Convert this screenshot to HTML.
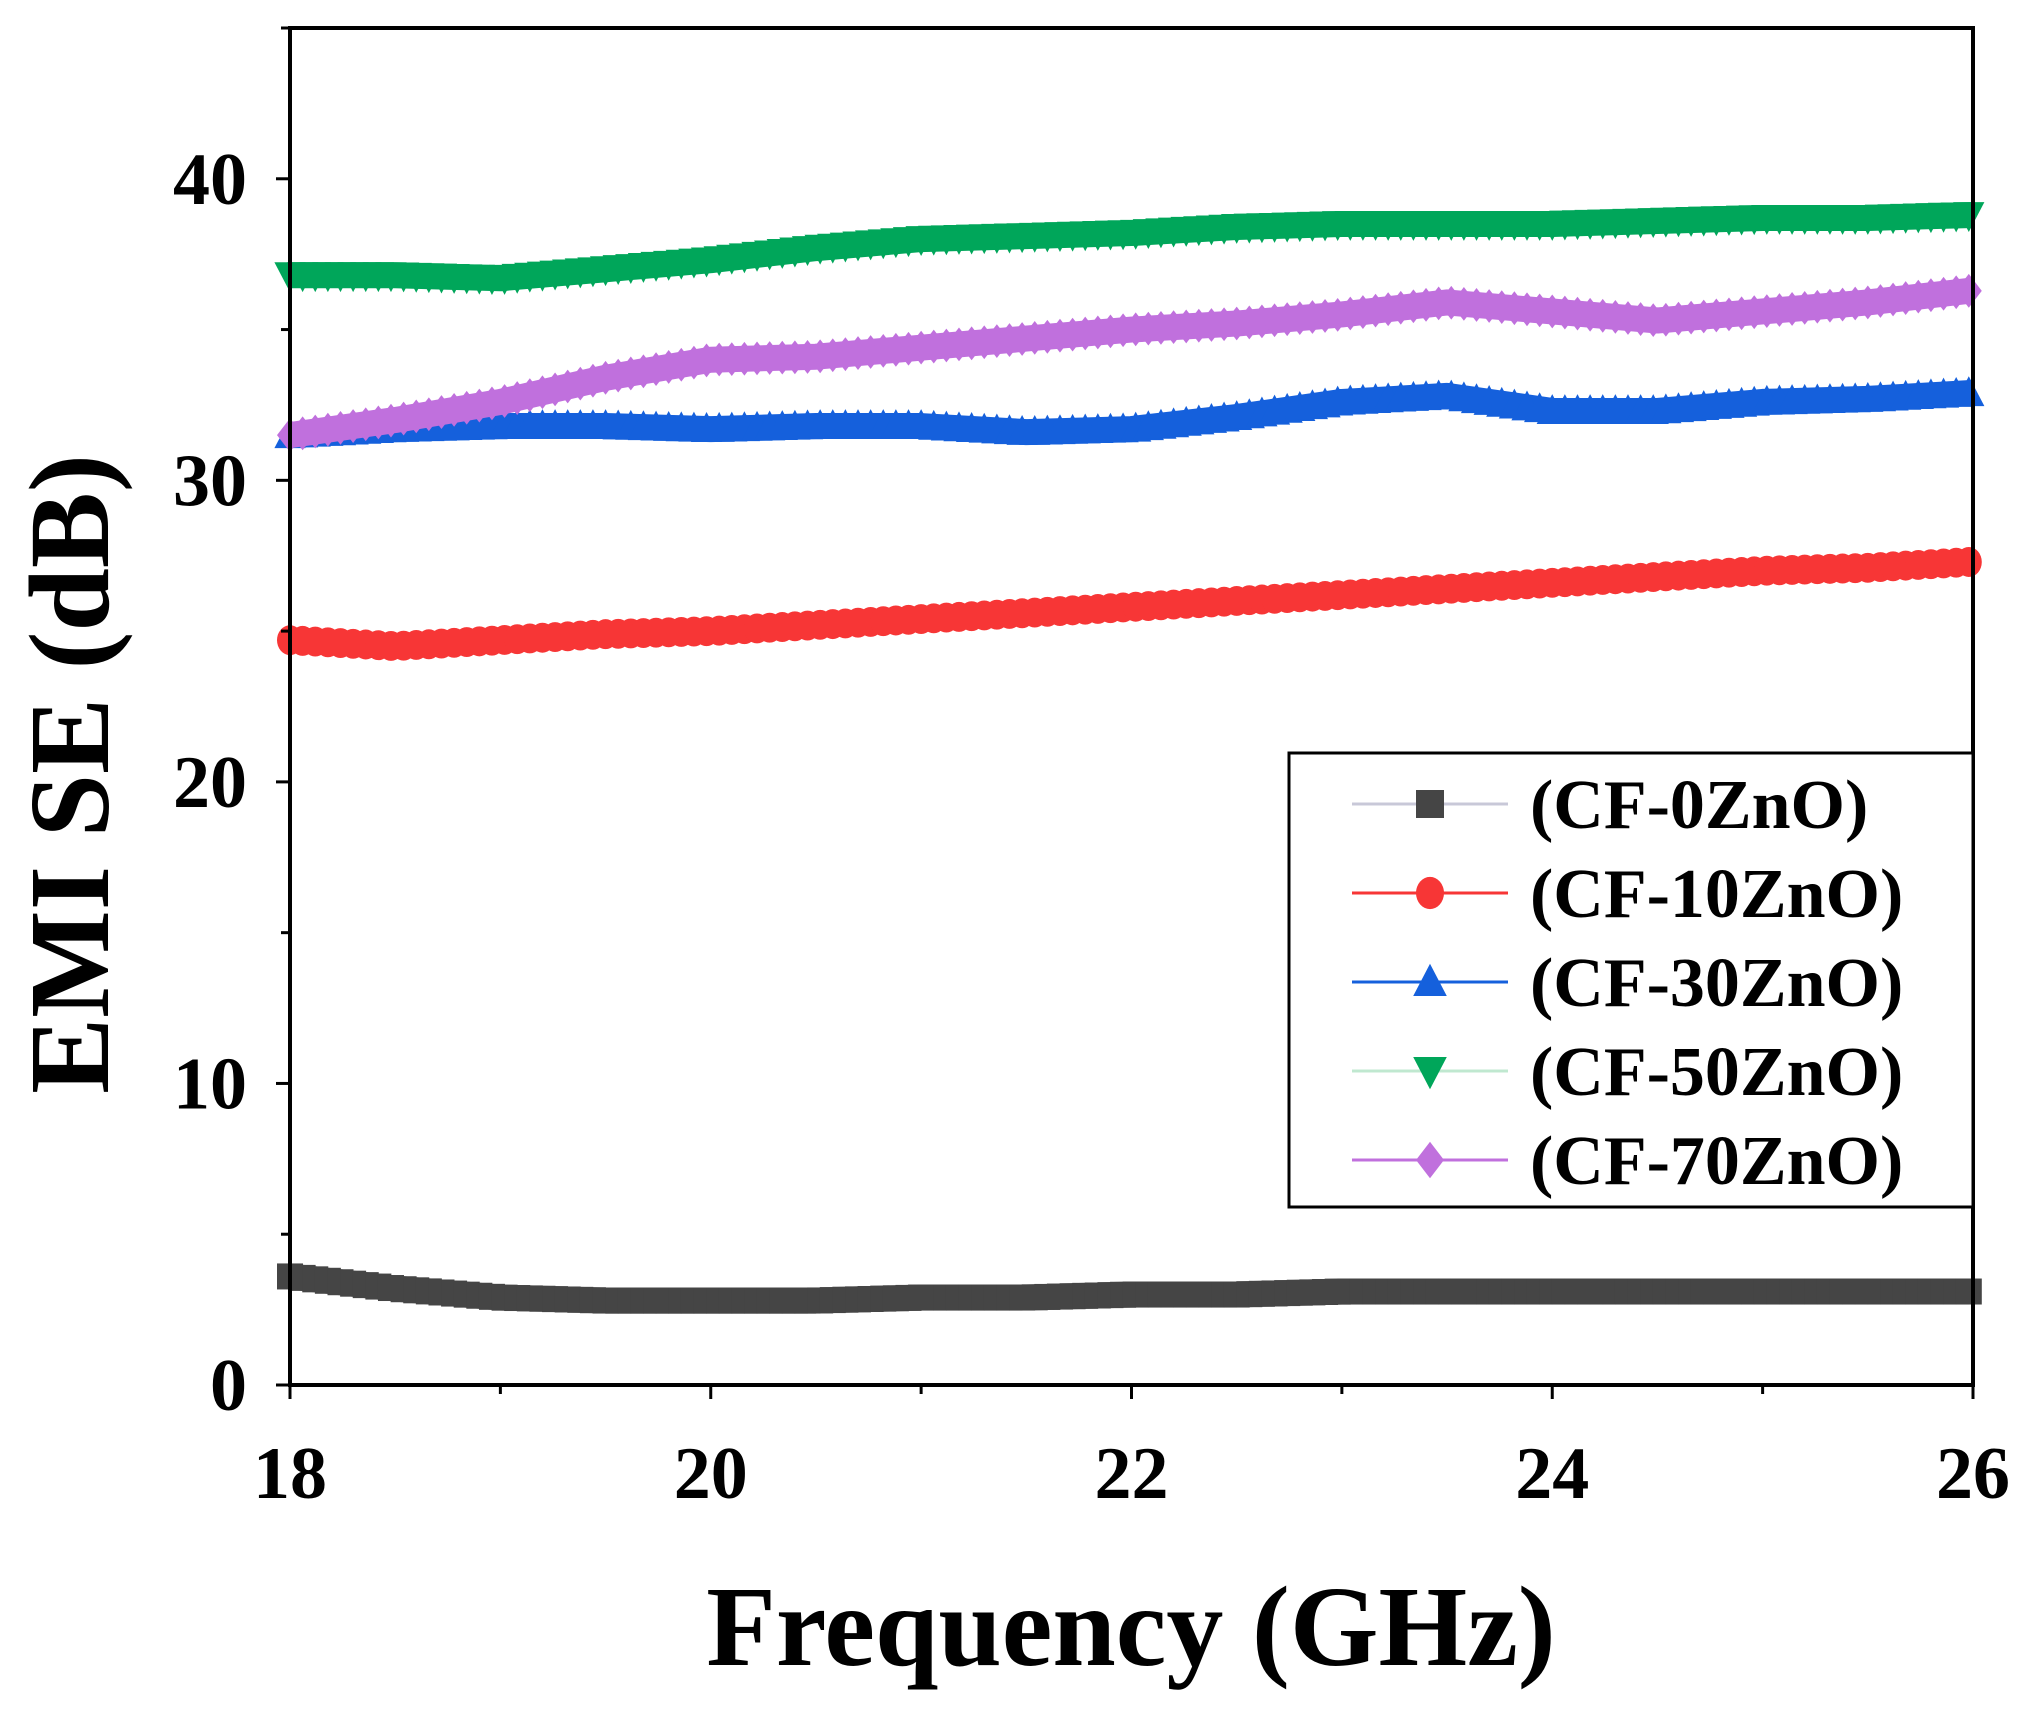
<!DOCTYPE html>
<html><head><meta charset="utf-8"><style>
html,body{margin:0;padding:0;background:#fff}
svg{display:block}
text{font-family:"Liberation Serif",serif;font-weight:bold;fill:#000}
</style></head><body>
<svg id="chart" width="2033" height="1714" viewBox="0 0 2033 1714" xmlns="http://www.w3.org/2000/svg">
<g id="series"></g>
<g id="axes"></g>
<g id="legend"></g>
</svg>
<script>
const freqs = [18,18.5,19,19.5,20,20.5,21,21.5,22,22.5,23,23.5,24,24.5,25,25.5,26];
const cf0  = [3.6,3.2,2.9,2.8,2.8,2.8,2.9,2.9,3.0,3.0,3.1,3.1,3.1,3.1,3.1,3.1,3.1];
const cf10 = [24.7,24.5,24.7,24.9,25.0,25.2,25.4,25.6,25.8,26.0,26.2,26.4,26.6,26.8,27.0,27.1,27.3];
const cf30 = [31.5,31.7,31.8,31.8,31.7,31.8,31.8,31.6,31.7,32.1,32.6,32.8,32.3,32.3,32.6,32.7,32.9];
const cf50 = [36.8,36.8,36.7,37.0,37.3,37.7,38.0,38.1,38.2,38.4,38.5,38.5,38.5,38.6,38.7,38.7,38.8];
const cf70 = [31.5,32.0,32.6,33.4,34.0,34.1,34.4,34.7,35.0,35.2,35.5,35.9,35.6,35.3,35.6,35.9,36.3];
const seriesNames = ["(CF-0ZnO)","(CF-10ZnO)","(CF-30ZnO)","(CF-50ZnO)","(CF-70ZnO)"];
const xTicks = [18,20,22,24,26];
const yTicks = [0,10,20,30,40];

const NS="http://www.w3.org/2000/svg";
const L=290,R=1973,T=28,B=1385;
const xMin=18,xMax=26,yMin=0,yMax=45;
const xs=v=>L+(v-xMin)/(xMax-xMin)*(R-L);
const ys=v=>B-(v-yMin)/(yMax-yMin)*(B-T);
function mk(tag,attrs,parent){const e=document.createElementNS(NS,tag);for(const k in attrs)e.setAttribute(k,attrs[k]);parent.appendChild(e);return e;}
const sg=document.getElementById('series'),ag=document.getElementById('axes'),lg=document.getElementById('legend');

const styles=[
 {data:cf0,color:"#454545",shape:"square"},
 {data:cf10,color:"#f73636",shape:"circle"},
 {data:cf30,color:"#1560dc",shape:"up"},
 {data:cf50,color:"#00a65a",shape:"down"},
 {data:cf70,color:"#c070dd",shape:"diamond"}];
function marker(shape,x,y,s,color,parent){
  let e;
  if(shape==="square") e=mk('rect',{x:x-s,y:y-s,width:2*s,height:2*s,fill:color},parent);
  else if(shape==="circle") e=mk('ellipse',{cx:x,cy:y,rx:s,ry:s*1.15,fill:color},parent);
  else if(shape==="up") e=mk('polygon',{points:`${x},${y-s*1.3} ${x-s*1.2},${y+s} ${x+s*1.2},${y+s}`,fill:color},parent);
  else if(shape==="down") e=mk('polygon',{points:`${x},${y+s*1.3} ${x-s*1.2},${y-s} ${x+s*1.2},${y-s}`,fill:color},parent);
  else e=mk('polygon',{points:`${x},${y-s*1.3} ${x+s},${y} ${x},${y+s*1.3} ${x-s},${y}`,fill:color},parent);
  return e;
}
function valAt(data,f){
  for(let i=0;i<freqs.length-1;i++){if(f<=freqs[i+1]){const t=(f-freqs[i])/(freqs[i+1]-freqs[i]);return data[i]+t*(data[i+1]-data[i]);}}
  return data[data.length-1];
}
styles.forEach((st,si)=>{
  const g=mk('g',{},sg);
  
  
  const pts=freqs.map((f,i)=>xs(f)+','+ys(st.data[i])).join(' ');
  const pl=mk('polyline',{points:pts,fill:'none',stroke:st.color,'stroke-width':26,'stroke-linejoin':'round'},g);
  
  
  for(let f=xMin;f<=xMax+1e-9;f+=0.06){
    const m=marker(st.shape,xs(f),ys(valAt(st.data,f)),13,st.color,g);
    
    
  }
});

const fr=mk('rect',{x:L,y:T,width:R-L,height:B-T,fill:'none',stroke:'#000','stroke-width':4},ag);


for(let v=18;v<=26;v+=1){
  const t=mk('line',{x1:xs(v),y1:B,x2:xs(v),y2:B+(v%2===0?14:9),stroke:'#000','stroke-width':3},ag);
  
  
}
xTicks.forEach(v=>{
  const t=mk('text',{x:xs(v),y:1498,'text-anchor':'middle','font-size':74},ag);t.textContent=v;
  
  
});
for(let v=0;v<=45;v+=5){
  const t=mk('line',{x1:L,y1:ys(v),x2:L-(v%10===0?14:9),y2:ys(v),stroke:'#000','stroke-width':3},ag);
  
  
}
yTicks.forEach(v=>{
  const t=mk('text',{x:247,y:ys(v)+25,'text-anchor':'end','font-size':74},ag);t.textContent=v;
  
  
});
const xt=mk('text',{x:1131,y:1665,'text-anchor':'middle','font-size':114},ag);xt.textContent="Frequency (GHz)";


const yt=mk('text',{x:0,y:0,'text-anchor':'middle','font-size':114,transform:'translate(108,774) rotate(-90)'},ag);yt.textContent="EMI SE (dB)";



const lb=mk('rect',{x:1289,y:753,width:R-1289,height:454,fill:'#fff',stroke:'#000','stroke-width':3},lg);


const lineCols=["#c8c8d8","#f73636","#1560dc","#c0e8d0","#c070dd"];
styles.forEach((st,i)=>{
  const y=804+i*89;
  const g=mk('g',{},lg);
  
  
  mk('line',{x1:1352,y1:y,x2:1508,y2:y,stroke:lineCols[i],'stroke-width':3},g);
  marker(st.shape,1430,y,14,st.color,g);
  const t=mk('text',{x:1530,y:y+24,'font-size':70},g);t.textContent=seriesNames[i];
});
</script>
</body></html>
